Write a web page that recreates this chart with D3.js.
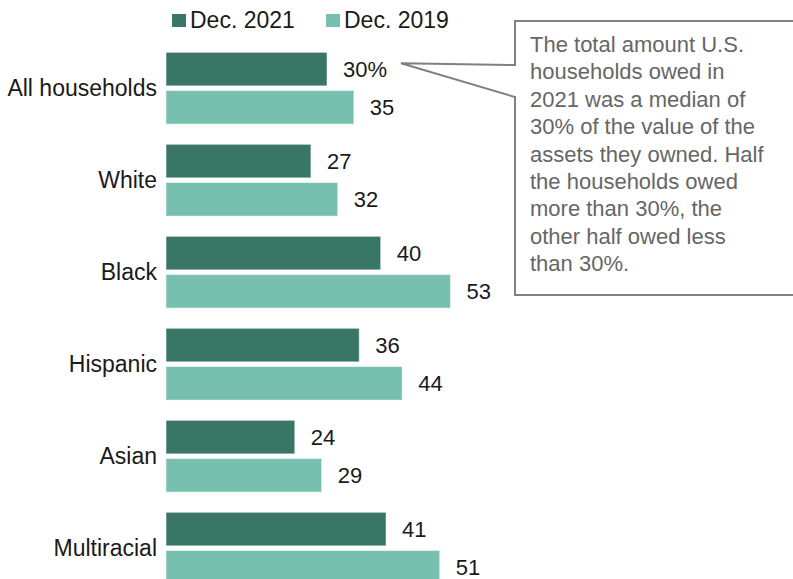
<!DOCTYPE html>
<html>
<head>
<meta charset="utf-8">
<script src="https://cdn.jsdelivr.net/npm/d3@7"></script>
<style>
  html, body { margin: 0; padding: 0; background: #fff; }
  svg { display: block; font-family: "Liberation Sans", Arial, sans-serif; }
</style>
</head>
<body>
<svg id="chart" width="793" height="579"></svg>
<script>
// Median debt-to-asset ratio of U.S. households, by race and ethnicity
const categories = ["All households", "White", "Black", "Hispanic", "Asian", "Multiracial"];
const seriesNames = ["Dec. 2021", "Dec. 2019"];
const values2021 = [30, 27, 40, 36, 24, 41];
const values2019 = [35, 32, 53, 44, 29, 51];
const colors = ["#3a7666", "#77c0af"];
const calloutLines = [
  "The total amount U.S.",
  "households owed in",
  "2021 was a median of",
  "30% of the value of the",
  "assets they owned. Half",
  "the households owed",
  "more than 30%, the",
  "other half owed less",
  "than 30%."
];

const svg = d3.select("#chart");
const seriesValues = [values2021, values2019];

const x = d3.scaleLinear().domain([0, 10]).range([166, 166 + 53.67]);
const y = d3.scaleBand().domain(categories).range([42.2, 594.2])
  .paddingInner(0.22).paddingOuter(0.11);
const ySub = d3.scaleBand().domain(seriesNames).range([0, y.bandwidth()])
  .paddingInner(0.123).paddingOuter(0);

// Category labels
svg.append("g").selectAll("text").data(categories).join("text")
  .attr("x", 157)
  .attr("y", d => y(d) + y.bandwidth() / 2)
  .attr("text-anchor", "end")
  .attr("dominant-baseline", "central")
  .attr("font-size", 23)
  .attr("fill", "#1a1a1a")
  .text(d => d);

// Bars and value labels
seriesNames.forEach((name, si) => {
  const rows = categories.map((c, i) => ({ c, v: seriesValues[si][i], i }));
  const g = svg.append("g");
  g.selectAll("rect").data(rows).join("rect")
    .attr("x", x(0))
    .attr("y", d => y(d.c) + ySub(name))
    .attr("width", d => x(d.v) - x(0))
    .attr("height", ySub.bandwidth())
    .attr("fill", colors[si])
    .attr("stroke", "#ffffff")
    .attr("stroke-opacity", 0.5)
    .attr("stroke-width", 1);
  g.selectAll("text").data(rows).join("text")
    .attr("x", d => x(d.v) + 16)
    .attr("y", d => y(d.c) + ySub(name) + ySub.bandwidth() / 2)
    .attr("dominant-baseline", "central")
    .attr("font-size", 22)
    .attr("fill", "#1a1a1a")
    .text(d => (si === 0 && d.i === 0) ? d.v + "%" : d.v);
});

// Legend
const legend = svg.append("g");
const legendX = [172, 326];
seriesNames.forEach((name, si) => {
  legend.append("rect")
    .attr("x", legendX[si]).attr("y", 14)
    .attr("width", 14).attr("height", 13)
    .attr("fill", colors[si]);
  legend.append("text")
    .attr("x", legendX[si] + 18).attr("y", 27.5)
    .attr("font-size", 23)
    .attr("fill", "#1a1a1a")
    .text(name);
});

// Callout box with pointer toward the all-households 2021 label
const tipX = x(values2021[0]) + 74;
const tipY = y(categories[0]) + ySub(seriesNames[0]) + 11;
const boxL = 515, boxT = 21, boxB = 295, boxR = 800;
const callout = svg.append("g");
callout.append("path")
  .attr("d", `M${boxL},${boxT} L${boxR},${boxT} L${boxR},${boxB} L${boxL},${boxB} L${boxL},97 L${tipX},${tipY} L${boxL},65 Z`)
  .attr("fill", "#fff")
  .attr("stroke", "#808080")
  .attr("stroke-width", 2)
  .attr("stroke-linejoin", "miter");
callout.append("g").selectAll("text").data(calloutLines).join("text")
  .attr("x", 530)
  .attr("y", (d, i) => 52 + i * 27.4)
  .attr("font-size", 22)
  .attr("fill", "#666666")
  .text(d => d);
</script>
</body>
</html>
